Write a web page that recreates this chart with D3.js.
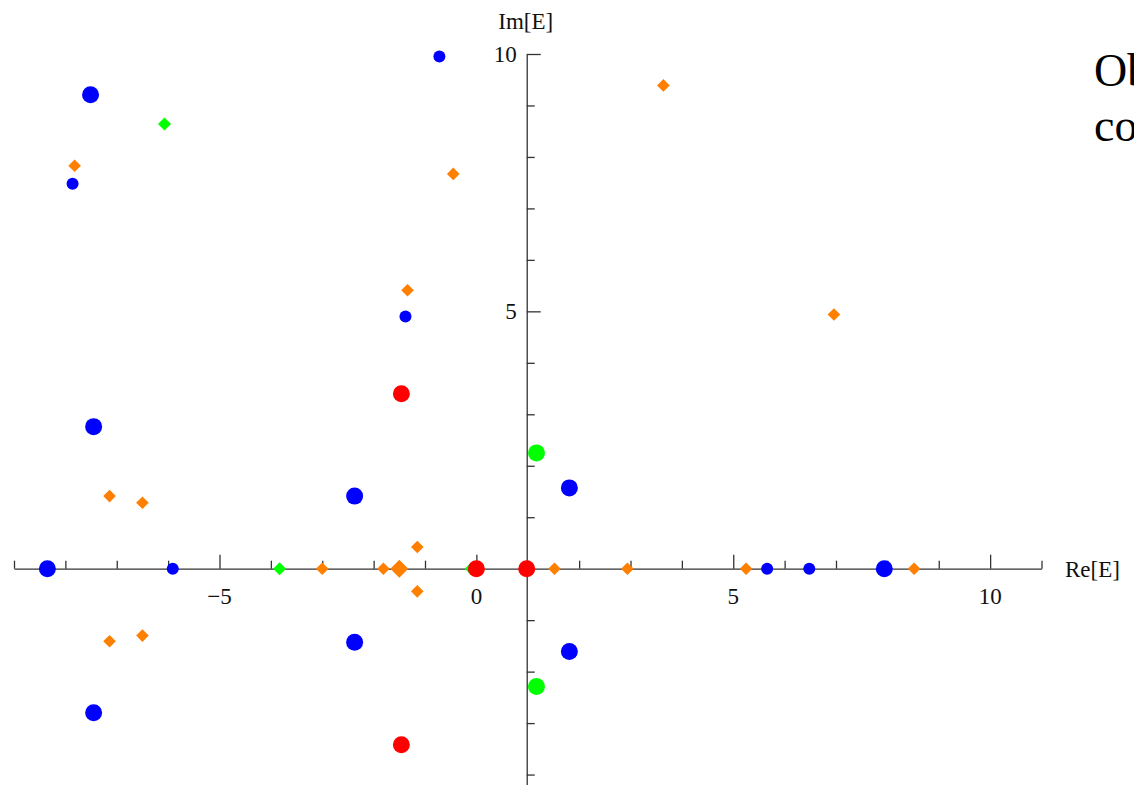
<!DOCTYPE html>
<html>
<head>
<meta charset="utf-8">
<script src="https://cdn.jsdelivr.net/npm/d3@7"></script>
<style>
  body { margin: 0; background: #fff; overflow: hidden; }
  svg { display: block; }
  text { font-family: "Liberation Serif", "Times New Roman", serif; }
</style>
</head>
<body>
<svg id="chart"></svg>
<script>
// eigenvalue positions [Re, Im]
const blueLarge = [[-7.51, 9.21], [-7.45, 2.76], [-7.45, -2.80], [-2.37, 1.41], [-2.37, -1.43],
                   [1.81, 1.57], [1.81, -1.61], [-8.35, 0], [7.94, 0]];
const blueSmall = [[-0.72, 9.95], [-7.86, 7.48], [-1.38, 4.90], [-5.91, 0], [5.66, 0], [6.48, 0]];
const redLarge = [[-1.46, 3.40], [-1.46, -3.42], [0, 0], [0.98, 0]];
const greenLarge = [[1.17, 2.25], [1.17, -2.29]];
const greenSmall = [[-6.07, 8.64], [-3.83, 0], [-0.1, 0]];
const orangeSmall = [[3.64, 9.39], [-7.82, 7.83], [-0.45, 7.67], [-1.34, 5.41], [6.96, 4.94],
                     [-7.14, 1.41], [-6.50, 1.28], [-7.14, -1.41], [-6.50, -1.30],
                     [-1.15, 0.42], [-1.15, -0.44], [-3.0, 0], [-1.81, 0], [1.52, 0],
                     [2.94, 0], [5.25, 0], [8.52, 0]];
const orangeLarge = [[-1.50, 0]];

const xTicksMajor = [-5, 0, 5, 10];
const yTicksMajor = [5, 10];

const width = 1134, height = 785;

const svg = d3.select('#chart')
    .attr('width', width)
    .attr('height', height);

const xScale = d3.scaleLinear().domain([-9, 11]).range([14, 1041.5]);
const yScale = d3.scaleLinear().domain([-4.3, 10]).range([790, 54]);

// axes cross at Re ~ 1, Im = 0
const xOrigin = 0.98, yOrigin = 0;

const xAxis = d3.axisTop(xScale)
    .tickValues(d3.range(-9, 12))
    .tickFormat('')
    .tickSize(8)
    .tickSizeOuter(0);

const yAxis = d3.axisRight(yScale)
    .tickValues(d3.range(-4, 11))
    .tickFormat('')
    .tickSize(8)
    .tickSizeOuter(0);

const xAxisG = svg.append('g')
    .attr('transform', `translate(0,${yScale(yOrigin)})`)
    .call(xAxis);

const yAxisG = svg.append('g')
    .attr('transform', `translate(${xScale(xOrigin)},0)`)
    .call(yAxis);

// longer major ticks
xAxisG.selectAll('.tick line')
    .attr('y2', d => xTicksMajor.includes(d) ? -14 : -8);
yAxisG.selectAll('.tick line')
    .attr('x2', d => yTicksMajor.includes(d) ? 14 : 8);

svg.selectAll('.domain, .tick line')
    .attr('stroke', '#333')
    .attr('stroke-width', 1.3);

// tick labels
svg.append('g').selectAll('text')
    .data(xTicksMajor)
  .join('text')
    .attr('x', d => xScale(d))
    .attr('y', yScale(yOrigin) + 35)
    .attr('text-anchor', 'middle')
    .attr('font-size', 23)
    .attr('fill', '#111')
    .text(d => d < 0 ? '\u2212' + Math.abs(d) : d);

svg.append('g').selectAll('text')
    .data(yTicksMajor)
  .join('text')
    .attr('x', xScale(xOrigin) - 10)
    .attr('y', d => yScale(d))
    .attr('dy', '0.35em')
    .attr('text-anchor', 'end')
    .attr('font-size', 23)
    .attr('fill', '#111')
    .text(d => d);

// axis titles
svg.append('text')
    .attr('x', xScale(xOrigin) - 1)
    .attr('y', 29)
    .attr('text-anchor', 'middle')
    .attr('font-size', 23)
    .attr('fill', '#111')
    .text('Im[E]');

svg.append('text')
    .attr('x', 1065)
    .attr('y', yScale(yOrigin) + 8)
    .attr('font-size', 23)
    .attr('fill', '#111')
    .text('Re[E]');

// points
const marks = svg.append('g');

function circles(data, r, color) {
  marks.append('g').selectAll('circle')
      .data(data)
    .join('circle')
      .attr('cx', d => xScale(d[0]))
      .attr('cy', d => yScale(d[1]))
      .attr('r', r)
      .attr('fill', color);
}

function diamonds(data, s, color) {
  marks.append('g').selectAll('path')
      .data(data)
    .join('path')
      .attr('transform', d => `translate(${xScale(d[0])},${yScale(d[1])})`)
      .attr('d', `M0,${-s}L${s},0L0,${s}L${-s},0Z`)
      .attr('fill', color);
}

diamonds(greenSmall, 6.5, '#00ff00');
circles(greenLarge, 8.5, '#00ff00');
circles(blueSmall, 6, '#0000ff');
circles(blueLarge, 8.5, '#0000ff');
diamonds(orangeSmall, 6.3, '#ff7f00');
diamonds(orangeLarge, 9, '#ff7f00');
circles(redLarge, 8.5, '#ff0000');

// slide text cut off at the right edge, as in the source
svg.append('text')
    .attr('x', 1094)
    .attr('y', 86)
    .attr('font-size', 46)
    .attr('fill', '#000')
    .text('Ob');

svg.append('text')
    .attr('x', 1094)
    .attr('y', 141)
    .attr('font-size', 46)
    .attr('fill', '#000')
    .text('co');
</script>
</body>
</html>
